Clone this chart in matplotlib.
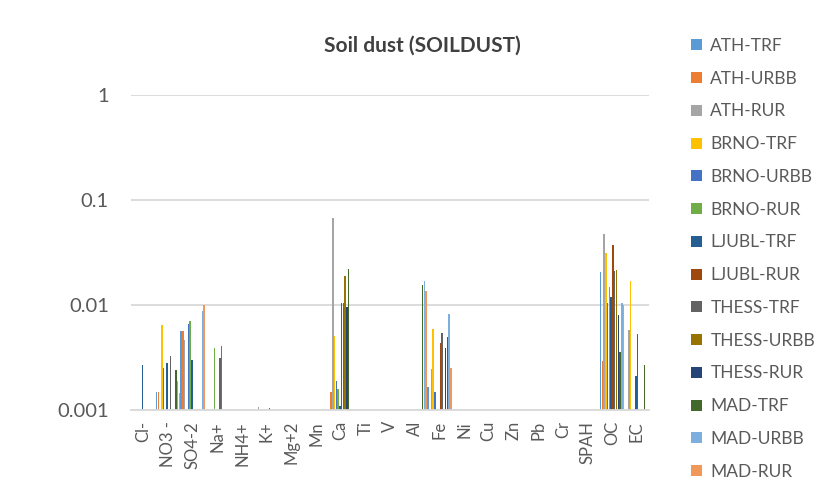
import numpy as np
import matplotlib.pyplot as plt
from matplotlib.patches import Patch
from matplotlib.ticker import FixedLocator, NullLocator

nan = np.nan

categories = ["Cl-", "NO3 -", "SO4-2", "Na+", "NH4+", "K+", "Mg+2", "Mn", "Ca", "Ti", "V",
              "Al", "Fe", "Ni", "Cu", "Zn", "Pb", "Cr", "SPAH", "OC", "EC"]

series = ["ATH-TRF", "ATH-URBB", "ATH-RUR", "BRNO-TRF", "BRNO-URBB", "BRNO-RUR",
          "LJUBL-TRF", "LJUBL-RUR", "THESS-TRF", "THESS-URBB", "THESS-RUR",
          "MAD-TRF", "MAD-URBB", "MAD-RUR"]

colors = ["#5B9BD5", "#ED7D31", "#A5A5A5", "#FFC000", "#4472C4", "#70AD47",
          "#255E91", "#9E480E", "#636363", "#997300", "#264478",
          "#43682B", "#7CAFDD", "#F1975A"]

#           Cl-  NO3   SO4   Na+   NH4+ K+   Mg+2 Mn   Ca   Ti   V    Al   Fe   Ni   Cu   Zn   Pb   Cr   SPAH OC  EC
ath_trf = [nan, 0.0015, 0.0056, nan, nan, nan, nan, nan, nan, nan, nan, nan, 0.00167, nan, nan, nan, nan, nan, nan, 0.0205, nan]
ath_urbb = [nan, 0.0015, 0.0056, nan, nan, nan, nan, nan, 0.0015, nan, nan, nan, nan, nan, nan, nan, nan, nan, nan, 0.0029, nan]
ath_rur = [nan, nan, 0.0046, nan, nan, 0.00107, nan, nan, 0.068, nan, nan, nan, 0.00246, nan, nan, nan, nan, nan, nan, 0.047, 0.0058]
brno_trf = [nan, 0.0065, nan, nan, nan, nan, nan, nan, 0.0051, nan, nan, nan, 0.0059, nan, nan, nan, nan, nan, nan, 0.031, 0.017]
brno_urbb = [nan, 0.0025, 0.0066, nan, nan, nan, nan, nan, 0.0019, nan, nan, nan, 0.0015, nan, nan, nan, nan, nan, nan, 0.0104, nan]
brno_rur = [nan, nan, 0.0070, 0.0039, nan, nan, nan, nan, 0.0016, nan, nan, nan, nan, nan, nan, nan, nan, nan, nan, 0.015, nan]
ljubl_trf = [0.0027, 0.0028, 0.0030, nan, nan, nan, nan, nan, 0.0011, nan, nan, nan, nan, nan, nan, nan, nan, nan, nan, 0.012, 0.0021]
ljubl_rur = [nan, nan, nan, nan, nan, nan, nan, nan, 0.0105, nan, nan, nan, 0.0043, nan, nan, nan, nan, nan, nan, 0.0376, 0.0053]
thess_trf = [nan, 0.0033, nan, 0.0031, nan, 0.00104, nan, nan, 0.0105, nan, nan, nan, 0.00545, nan, nan, nan, nan, nan, nan, 0.0212, nan]
thess_urbb = [nan, nan, nan, 0.0041, nan, nan, nan, nan, 0.019, nan, nan, nan, nan, nan, nan, nan, nan, nan, nan, 0.0217, nan]
thess_rur = [nan, nan, nan, nan, nan, nan, nan, nan, 0.0095, nan, nan, nan, 0.0039, nan, nan, nan, nan, nan, nan, 0.008, nan]
mad_trf = [nan, 0.0024, nan, nan, nan, nan, nan, nan, 0.022, nan, nan, 0.0155, 0.005, nan, nan, nan, nan, nan, nan, 0.0036, 0.0027]
mad_urbb = [nan, 0.0019, 0.0088, nan, nan, nan, nan, nan, nan, nan, nan, 0.0171, 0.0082, nan, nan, nan, nan, nan, nan, 0.0104, nan]
mad_rur = [nan, 0.00145, 0.0101, nan, nan, nan, nan, nan, nan, nan, nan, 0.0135, 0.0025, nan, nan, nan, nan, nan, nan, 0.010, nan]

values = [ath_trf, ath_urbb, ath_rur, brno_trf, brno_urbb, brno_rur, ljubl_trf, ljubl_rur,
          thess_trf, thess_urbb, thess_rur, mad_trf, mad_urbb, mad_rur]

plt.rcParams['font.family'] = ['Lato', 'DejaVu Sans']
txt = "#595959"
grid = "#D9D9D9"
ymin = 0.001

fig = plt.figure(figsize=(8.29, 4.96), dpi=100)
ax = fig.add_axes([0.158, 0.1734, 0.625, 0.635])

n = len(series)
w = 1.0 / n
x = np.arange(len(categories))
for i, (vals, col) in enumerate(zip(values, colors)):
    v = np.array(vals, dtype=float)
    ok = ~np.isnan(v)
    pos = x - 0.5 + (i + 0.5) * w
    ax.bar(pos[ok], v[ok] - ymin, bottom=ymin, width=w * 0.85, color=col, linewidth=0)

ax.set_yscale('log')
ax.set_ylim(ymin, 1)
ax.set_xlim(-0.5, len(categories) - 0.5)
ax.yaxis.set_major_locator(FixedLocator([0.001, 0.01, 0.1, 1]))
ax.yaxis.set_minor_locator(NullLocator())
ax.set_yticklabels(["0.001", "0.01", "0.1", "1"])
ax.set_xticks(x)
ax.set_xticklabels(categories, rotation=90)
ax.tick_params(axis='y', length=0, pad=16, labelsize=14.5, labelcolor=txt)
ax.tick_params(axis='x', length=0, pad=8, labelsize=12, labelcolor=txt)
ax.grid(axis='y', color=grid, linewidth=1.3)
ax.set_axisbelow(True)
for s in ['left', 'right', 'top']:
    ax.spines[s].set_visible(False)
ax.spines['bottom'].set_color(grid)
ax.spines['bottom'].set_linewidth(1.3)

fig.text(0.509, 0.908, "Soil dust (SOILDUST)", ha='center', va='center',
         fontsize=15, fontweight='bold', color="#404040")

handles = [Patch(facecolor=c, edgecolor='none') for c in colors]
fig.legend(handles, series, loc='upper left', bbox_to_anchor=(0.815, 0.955),
           frameon=False, fontsize=12.5, labelcolor=txt, handlelength=0.6,
           handleheight=0.6, handletextpad=0.5, labelspacing=0.965)

fig.savefig("out.png", dpi=100)
